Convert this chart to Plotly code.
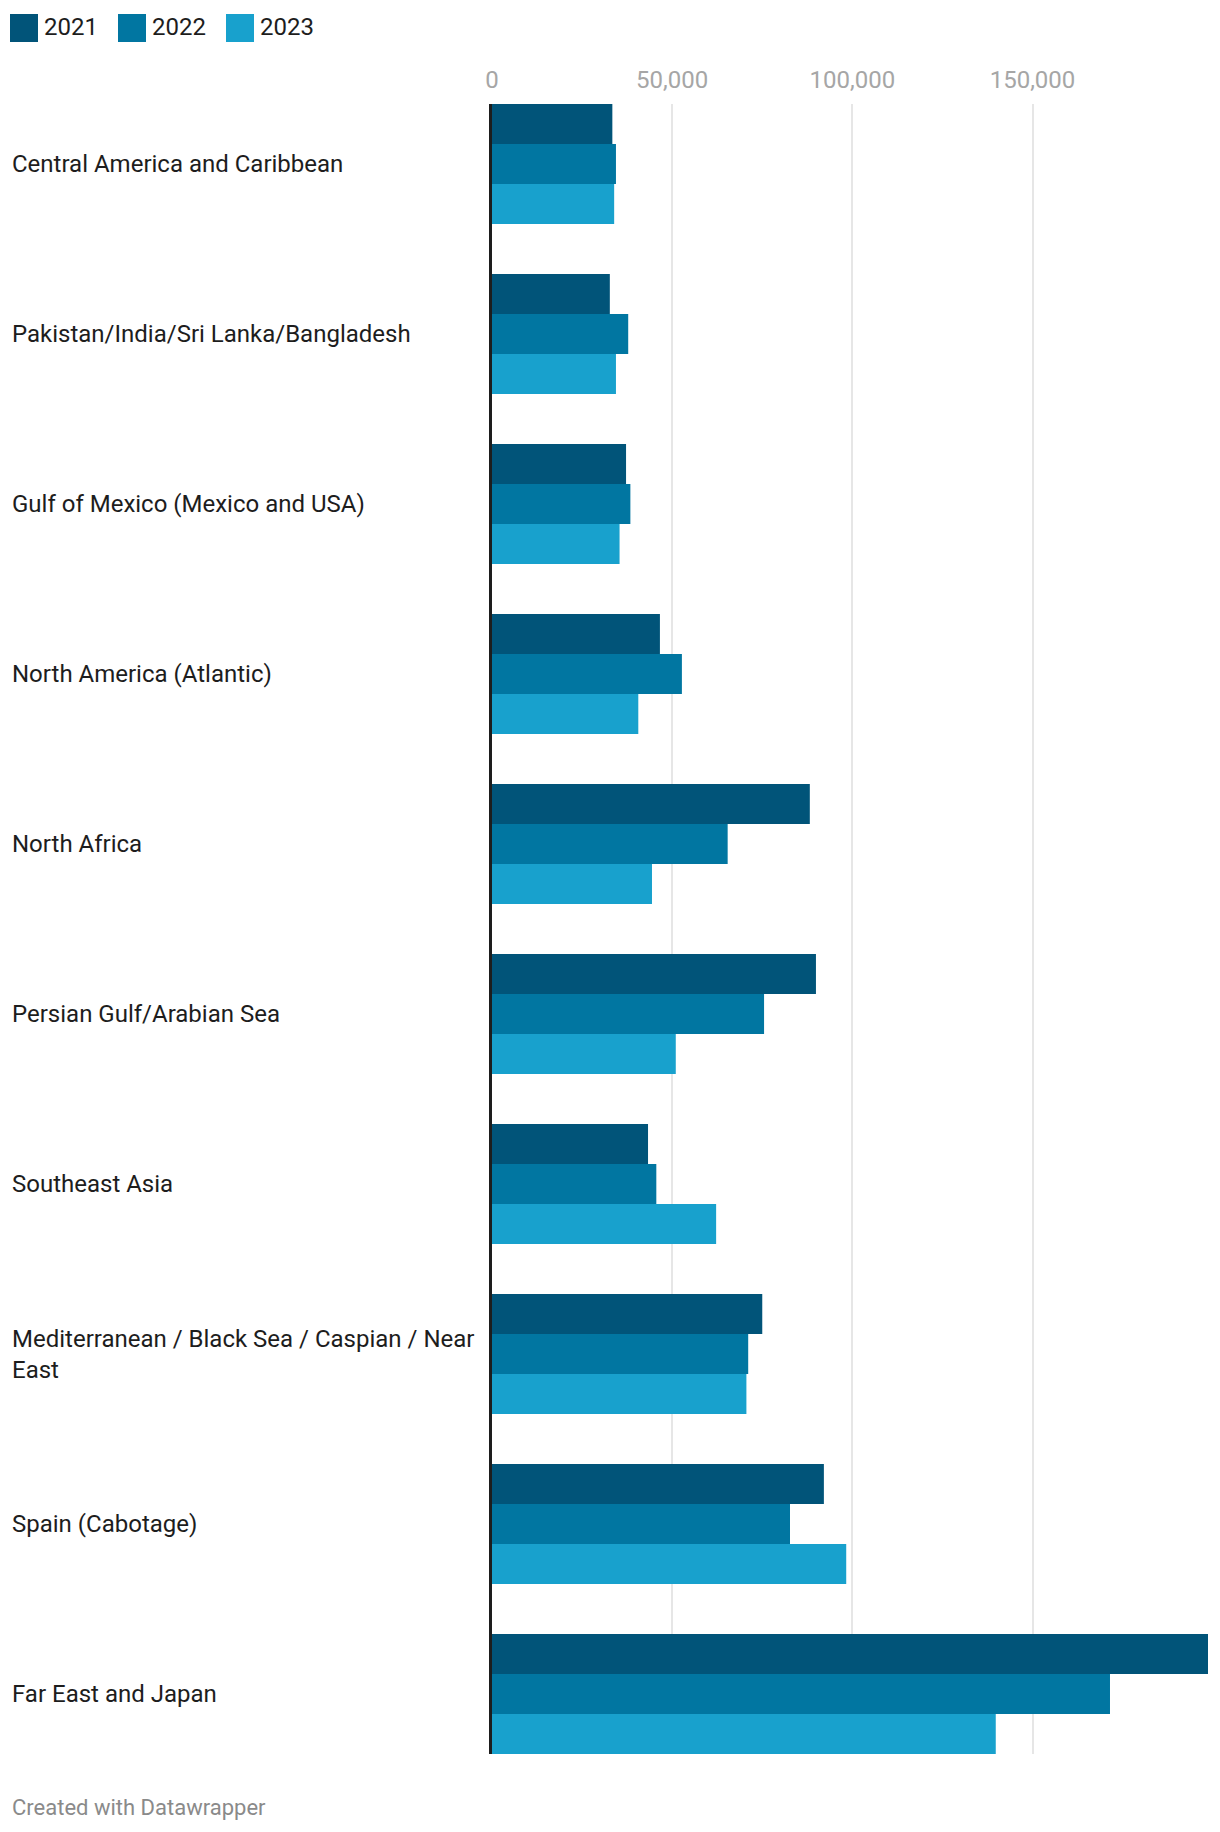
import plotly.graph_objects as go

categories = [
    "Central America and Caribbean",
    "Pakistan/India/Sri Lanka/Bangladesh",
    "Gulf of Mexico (Mexico and USA)",
    "North America (Atlantic)",
    "North Africa",
    "Persian Gulf/Arabian Sea",
    "Southeast Asia",
    "Mediterranean / Black Sea / Caspian / Near<br>East",
    "Spain (Cabotage)",
    "Far East and Japan",
]
years = ["2021", "2022", "2023"]
values_2021 = [33400, 32700, 37200, 46600, 88200, 89900, 43300, 75000, 92100, 198700]
values_2022 = [34400, 37800, 38400, 52700, 65400, 75500, 45600, 71100, 82700, 171500]
values_2023 = [33900, 34400, 35400, 40600, 44400, 51000, 62200, 70600, 98300, 139800]
series = [values_2021, values_2022, values_2023]
colors = ["#015479", "#0176a1", "#18a1cd"]
tick_vals = [0, 50000, 100000, 150000]
tick_text = ["0", "50,000", "100,000", "150,000"]

W, H = 1220, 1832
ML, MR, MT, MB = 492, 12, 104, 78
PW, PH = W - ML - MR, H - MT - MB

def px_x(x):
    return (x - ML) / PW

def px_y(y):
    return (H - MB - y) / PH

FONT = "Roboto, 'Open Sans', sans-serif"

fig = go.Figure()
for yr, vals, col in zip(years, series, colors):
    fig.add_trace(go.Bar(
        y=categories, x=vals, name=yr, orientation="h",
        marker=dict(color=col, line=dict(width=0)),
        showlegend=False,
    ))

xmax = max(max(s) for s in series)
n = len(categories)
half = 60 / 170

annotations = []
for c in categories:
    annotations.append(dict(
        xref="paper", yref="y", x=px_x(10), y=c, text=c,
        xanchor="left", yanchor="middle", align="left", showarrow=False,
        font=dict(family=FONT, size=24, color="#1d1d1d"),
    ))

shapes = []
legend_x = [10, 118, 226]
for yr, col, lx in zip(years, colors, legend_x):
    shapes.append(dict(
        type="rect", xref="paper", yref="paper",
        x0=px_x(lx), x1=px_x(lx + 28), y0=px_y(42), y1=px_y(14),
        fillcolor=col, line=dict(width=0),
    ))
    annotations.append(dict(
        xref="paper", yref="paper", x=px_x(lx + 32), y=px_y(27), text=yr,
        xanchor="left", yanchor="middle", showarrow=False,
        font=dict(family=FONT, size=24, color="#1d1d1d"),
    ))

annotations.append(dict(
    xref="paper", yref="paper", x=px_x(10), y=px_y(1807),
    text="Created with Datawrapper", xanchor="left", yanchor="middle",
    showarrow=False, font=dict(family=FONT, size=22, color="#8a8a8a"),
))

fig.update_layout(
    width=W, height=H,
    margin=dict(l=ML, r=MR, t=MT, b=MB, pad=0),
    paper_bgcolor="white", plot_bgcolor="white",
    barmode="group", bargap=1 - 120 / 170, bargroupgap=0,
    xaxis=dict(
        range=[0, xmax], side="top", tickvals=tick_vals, ticktext=tick_text,
        showgrid=True, gridcolor="#e6e6e6", gridwidth=2,
        zeroline=False, showline=False, ticks="",
        tickfont=dict(family=FONT, size=24, color="#a6a6a6"),
        ticklabelstandoff=10,
    ),
    yaxis=dict(
        range=[n - 1 + half, -half], showticklabels=False, ticks="",
        showgrid=False, zeroline=False,
        showline=True, linecolor="#1d1d1d", linewidth=2.5, layer="above traces",
    ),
    annotations=annotations, shapes=shapes,
    font=dict(family=FONT),
)

fig.write_html("out.html", config={"displayModeBar": False},
               post_script="document.body.style.margin='0';")
